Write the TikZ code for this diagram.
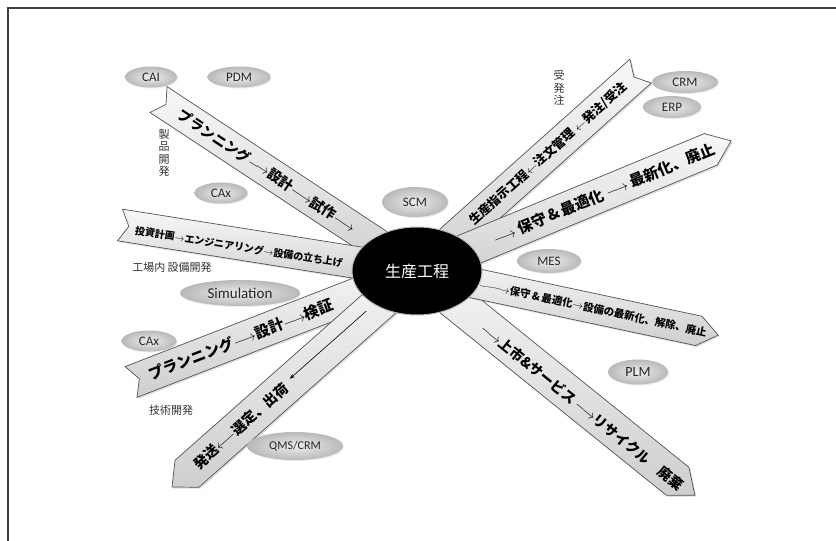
\documentclass[tikz,border=0pt]{standalone}
\usepackage{fontspec}
\setmainfont{Noto Sans CJK JP}
\newfontfamily\lat{Carlito}
\usetikzlibrary{shapes.geometric,shadows,arrows.meta}
\tikzset{
  bandfill/.style={draw=gray!65!black, line width=0.7pt, top color=gray!6, bottom color=gray!38,
    drop shadow={opacity=0.25, shadow xshift=1.5pt, shadow yshift=-1.5pt}},
  bandtext/.style={inner sep=0pt, text=black},
  tag/.style={ellipse, inner sep=0pt, inner color=gray!14, outer color=gray!55,
    drop shadow={opacity=0.15, shadow xshift=1pt, shadow yshift=-1pt},
    font=\lat\fontsize{13}{13}\selectfont, text=black!85},
  sidelab/.style={inner sep=0pt, text=black!80, font=\fontsize{11}{12.5}\selectfont, align=center},
  thinarrow/.style={-{Stealth[length=5pt,width=4pt]}, line width=0.6pt}
}
\begin{document}
\begin{tikzpicture}[x=1pt,y=1pt]
\useasboundingbox (0,0) rectangle (836,-541);
\fill[white] (0,0) rectangle (836,-541);
\draw[line width=1.3pt, black!75] (8,-541) -- (8,-8) -- (836,-8);

% Band A : product development
\begin{scope}[shift={(158.5,-99.5)}, rotate=-33.4]
  \draw[bandfill] (0,15.5) -- (300,15.5) -- (300,-15.5) -- (0,-15.5) -- (9,0) -- cycle;
  \node[bandtext, rotate=-33.4, font=\fontsize{14}{14}\selectfont\bfseries] (tA) at (130,0)
    {プランニング$\longrightarrow$設計$\longrightarrow$試作$\longrightarrow$};
\end{scope}
% Band B : factory equipment
\begin{scope}[shift={(120,-225)}, rotate=-9]
  \draw[bandfill] (0,16) -- (300,16) -- (300,-16) -- (0,-16) -- (9,0) -- cycle;
  \node[bandtext, rotate=-9, font=\fontsize{10}{10}\selectfont\bfseries] (tB) at (121,-3)
    {投資計画$\rightarrow$エンジニアリング$\rightarrow$設備の立ち上げ};
\end{scope}
% Band C : technology development
\begin{scope}[shift={(131,-382)}, rotate=21.2]
  \draw[bandfill] (0,16.5) -- (300,16.5) -- (300,-16.5) -- (0,-16.5) -- (9,0) -- cycle;
  \node[bandtext, rotate=21.2, font=\fontsize{15}{15}\selectfont\bfseries] (tC) at (118,0)
    {プランニング$\longrightarrow$設計$\longrightarrow$検証};
\end{scope}
% Band D : shipping
\begin{scope}[shift={(172,-487)}, rotate=41.5]
  \draw[bandfill] (0,0) -- (20,18) -- (330,18) -- (330,-18) -- (20,-18) -- cycle;
  \node[bandtext, rotate=41.5, font=\fontsize{14}{14}\selectfont\bfseries] (tD) at (92,0)
    {発送$\longleftarrow$選定、出荷};
  \coordinate (dS) at (262,3);
  \coordinate (dE) at (160,3);
  \draw[thinarrow] (dS) -- (dE);
\end{scope}
% Band E : orders
\begin{scope}[shift={(417,-271)}, rotate=41.8]
  \draw[bandfill] (0,16) -- (300,16) -- (291,0) -- (300,-16) -- (0,-16) -- cycle;
  \node[bandtext, rotate=41.8, font=\fontsize{12.5}{12.5}\selectfont\bfseries] (tE) at (176,0)
    {生産指示工程$\leftarrow$注文管理 $\leftarrow$発注/受注};
\end{scope}
% Band F : maintenance
\begin{scope}[shift={(417,-271)}, rotate=22.5]
  \draw[bandfill] (0,17) -- (318,17) -- (340,0) -- (318,-17) -- (0,-17) -- cycle;
  \node[bandtext, rotate=22.5, font=\fontsize{15}{15}\selectfont\bfseries] (tF) at (202,0)
    {$\longrightarrow$ 保守\,\&\,最適化 $\longrightarrow$ 最新化、廃止};
\end{scope}
% Band H : market & service
\begin{scope}[shift={(417,-271)}, rotate=-38.9]
  \draw[bandfill] (0,18) -- (335,18) -- (357,0) -- (335,-18) -- (0,-18) -- cycle;
  \node[bandtext, rotate=-38.9, font=\fontsize{14}{14}\selectfont\bfseries] (tH) at (214,-2)
    {$\longrightarrow$上市\&サービス $\longrightarrow$リサイクル\quad 廃棄};
\end{scope}
% Band G : equipment renewal
\begin{scope}[shift={(417,-271)}, rotate=-12]
  \draw[bandfill] (0,15) -- (288,15) -- (308,0) -- (288,-15) -- (0,-15) -- cycle;
  \node[bandtext, rotate=-12, font=\fontsize{10.5}{10.5}\selectfont\bfseries] (tG) at (180,0)
    {$\relbar\joinrel\relbar\joinrel\longrightarrow$保守\,\&\,最適化$\rightarrow$設備の最新化、解除、廃止};
\end{scope}

% centre
\node[ellipse, fill=black, draw=gray!55, line width=1pt, minimum width=130pt, minimum height=88pt,
  text=white, font=\fontsize{16}{16}\selectfont] (core) at (417,-271) {生産工程};

% tags
\node[tag, minimum width=52pt, minimum height=21pt] (cai) at (151,-77) {CAI};
\node[tag, minimum width=63pt, minimum height=21pt] (pdm) at (239,-77) {PDM};
\node[tag, minimum width=53pt, minimum height=21pt] (cax1) at (221,-193) {CAx};
\node[tag, minimum width=66pt, minimum height=30pt] (scm) at (415,-202) {SCM};
\node[tag, minimum width=64pt, minimum height=24pt] (mes) at (549,-261) {MES};
\node[tag, minimum width=66pt, minimum height=22pt] (crm) at (685,-82) {CRM};
\node[tag, minimum width=58pt, minimum height=22pt] (erp) at (672,-107) {ERP};
\node[tag, minimum width=120pt, minimum height=26pt, font=\lat\fontsize{15}{15}\selectfont] (sim) at (240,-293) {Simulation};
\node[tag, minimum width=55pt, minimum height=21pt] (cax2) at (149,-341) {CAx};
\node[tag, minimum width=96pt, minimum height=28pt, font=\lat\fontsize{12}{12}\selectfont] (qms) at (295,-446) {QMS/CRM};
\node[tag, minimum width=60pt, minimum height=25pt, font=\lat\fontsize{14}{14}\selectfont] (plm) at (638,-372) {PLM};

% side labels
\node[sidelab] (l1) at (164,-153) {製\\品\\開\\発};
\node[sidelab] (l2) at (172,-267) {工場内\ 設備開発};
\node[sidelab] (l3) at (171,-410) {技術開発};
\node[sidelab] (l4) at (559,-88) {受\\発\\注};
\end{tikzpicture}
\end{document}
